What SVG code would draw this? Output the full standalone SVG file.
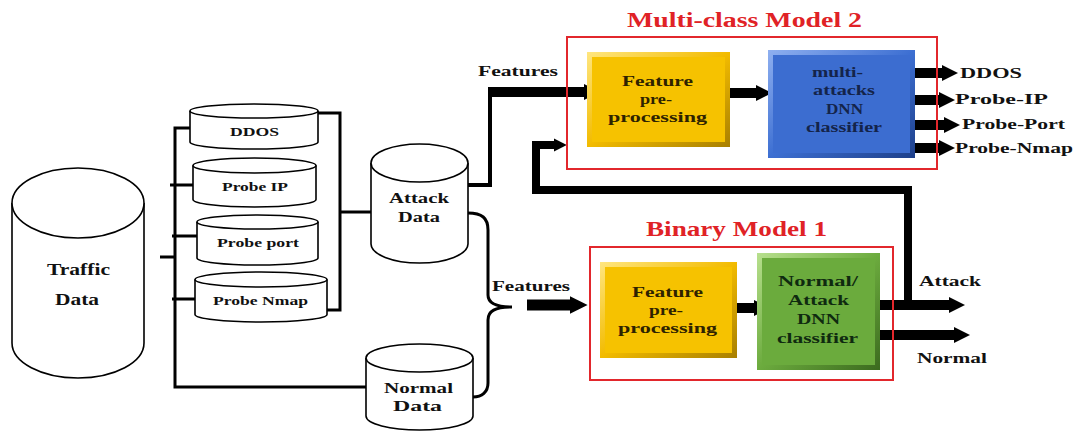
<svg xmlns="http://www.w3.org/2000/svg" width="1077" height="432" viewBox="0 0 1077 432">
<style>
.cyl{fill:#fff;stroke:#000;stroke-width:1.6}
.t{font-family:"Liberation Serif","Times New Roman",serif;font-weight:bold;fill:#111}
.s13{font-size:13px}
.s14{font-size:14px}
.s15{font-size:15px}
.s16{font-size:16px}
.title{font-family:"Liberation Serif","Times New Roman",serif;font-weight:bold;fill:#e02226;font-size:20px}
.red{fill:none;stroke:#e2272c;stroke-width:2}
.ln{fill:none;stroke:#000;stroke-width:3;stroke-linejoin:miter}
.ar{fill:none;stroke:#000;stroke-linejoin:miter}
</style>
<defs>
<marker id="ah" viewBox="0 0 10 10" refX="0" refY="5" markerWidth="1.6" markerHeight="2.5" markerUnits="strokeWidth" orient="auto">
<path d="M0,0 L10,5 L0,10 z" fill="#000"/>
</marker>
<linearGradient id="gy" x1="0" y1="0" x2="1" y2="1">
<stop offset="0" stop-color="#ffe680"/><stop offset="0.5" stop-color="#f2bb00"/><stop offset="1" stop-color="#a87f00"/>
</linearGradient>
<linearGradient id="gb" x1="0" y1="0" x2="1" y2="1">
<stop offset="0" stop-color="#8fb0f0"/><stop offset="0.5" stop-color="#3d6fd2"/><stop offset="1" stop-color="#1d3f8a"/>
</linearGradient>
<linearGradient id="gg" x1="0" y1="0" x2="1" y2="1">
<stop offset="0" stop-color="#b8e08e"/><stop offset="0.5" stop-color="#6cab3e"/><stop offset="1" stop-color="#3b6a1e"/>
</linearGradient>
</defs>

<g id="connectors">
<path class="ln" d="M190,128 H175 V387 H366"/>
<path class="ln" d="M170,185 H193 M172,236 H197 M172,299 H195 M160,257 H175"/>
<path class="ln" d="M318,113 H340 V310 H327 M340,212 H371"/>
<path class="ln" d="M468,185 H490 V88" style="stroke-width:4"/>
<path class="ar" d="M488,92 H584" style="stroke-width:10" marker-end="url(#ah)"/>
<path class="ln" d="M468,213 C482,213 488,218 488,230 L488,295 C488,303 495,307 512,307 C495,307 488,311 488,320 L488,383 C488,392 482,397 473,397"/>
<path class="ar" d="M527,305 H570" style="stroke-width:11" marker-end="url(#ah)"/>
<path class="ar" d="M730,93 H756" style="stroke-width:10" marker-end="url(#ah)"/>
<path class="ar" d="M737,308 H754" style="stroke-width:10" marker-end="url(#ah)"/>
<path class="ar" d="M915,73 H942" style="stroke-width:10" marker-end="url(#ah)"/>
<path class="ar" d="M915,100 H939" style="stroke-width:10" marker-end="url(#ah)"/>
<path class="ar" d="M915,125 H944" style="stroke-width:10" marker-end="url(#ah)"/>
<path class="ar" d="M915,148 H939" style="stroke-width:10" marker-end="url(#ah)"/>
<path class="ar" d="M880,305 H949" style="stroke-width:10" marker-end="url(#ah)"/>
<path class="ar" d="M880,335 H954" style="stroke-width:10" marker-end="url(#ah)"/>
<path class="ar" d="M908,302 V190 H536 V145 H554" style="stroke-width:8" marker-end="url(#ah)"/>
</g>

<g id="traffic-data">
<path class="cyl" d="M12,203 L12,343 A66,35 0 0 0 144,343 L144,203"/>
<ellipse class="cyl" cx="78" cy="203" rx="66" ry="35"/>
<text class="t s16" x="47" y="275" textLength="63" lengthAdjust="spacingAndGlyphs">Traffic</text>
<text class="t s16" x="55" y="305" textLength="44" lengthAdjust="spacingAndGlyphs">Data</text>
</g>

<g id="ddos">
<path class="cyl" d="M190,111 L190,142 A64,7 0 0 0 318,142 L318,111"/>
<ellipse class="cyl" cx="254" cy="111" rx="64" ry="7"/>
<text class="t s13" x="230" y="136" textLength="49" lengthAdjust="spacingAndGlyphs">DDOS</text>
</g>

<g id="probe-ip">
<path class="cyl" d="M193,165.5 L193,199.5 A61.5,7.5 0 0 0 316,199.5 L316,165.5"/>
<ellipse class="cyl" cx="254.5" cy="165.5" rx="61.5" ry="7.5"/>
<text class="t s13" x="222" y="191" textLength="66" lengthAdjust="spacingAndGlyphs">Probe IP</text>
</g>

<g id="probe-port">
<path class="cyl" d="M197,222 L197,258 A60.5,7 0 0 0 318,258 L318,222"/>
<ellipse class="cyl" cx="257.5" cy="222" rx="60.5" ry="7"/>
<text class="t s13" x="217" y="247" textLength="82" lengthAdjust="spacingAndGlyphs">Probe port</text>
</g>

<g id="probe-nmap">
<path class="cyl" d="M195,279.5 L195,314.5 A66,7.5 0 0 0 327,314.5 L327,279.5"/>
<ellipse class="cyl" cx="261" cy="279.5" rx="66" ry="7.5"/>
<text class="t s13" x="213" y="305" textLength="95" lengthAdjust="spacingAndGlyphs">Probe Nmap</text>
</g>

<g id="attack-data">
<path class="cyl" d="M371,163 L371,244 A48.5,19 0 0 0 468,244 L468,163"/>
<ellipse class="cyl" cx="419.5" cy="163" rx="48.5" ry="19"/>
<text class="t s15" x="389" y="203" textLength="60" lengthAdjust="spacingAndGlyphs">Attack</text>
<text class="t s15" x="398" y="222" textLength="42" lengthAdjust="spacingAndGlyphs">Data</text>
</g>

<g id="normal-data">
<path class="cyl" d="M366,358 L366,416 A53.5,14 0 0 0 473,416 L473,358"/>
<ellipse class="cyl" cx="419.5" cy="358" rx="53.5" ry="14"/>
<text class="t s15" x="384" y="393" textLength="69" lengthAdjust="spacingAndGlyphs">Normal</text>
<text class="t s15" x="393" y="411" textLength="49" lengthAdjust="spacingAndGlyphs">Data</text>
</g>

<g id="labels">
<text class="t s14" x="478" y="76" textLength="80" lengthAdjust="spacingAndGlyphs">Features</text>
<text class="t s14" x="492" y="291" textLength="78" lengthAdjust="spacingAndGlyphs">Features</text>
<text class="t s14" x="960" y="78" textLength="62" lengthAdjust="spacingAndGlyphs">DDOS</text>
<text class="t s14" x="955" y="104" textLength="93" lengthAdjust="spacingAndGlyphs">Probe-IP</text>
<text class="t s14" x="962" y="129" textLength="103" lengthAdjust="spacingAndGlyphs">Probe-Port</text>
<text class="t s14" x="955" y="153" textLength="118" lengthAdjust="spacingAndGlyphs">Probe-Nmap</text>
<text class="t s14" x="919" y="286" textLength="62" lengthAdjust="spacingAndGlyphs">Attack</text>
<text class="t s14" x="917" y="363" textLength="70" lengthAdjust="spacingAndGlyphs">Normal</text>
</g>

<g id="multi-class-model">
<rect class="red" x="567" y="37" width="370" height="132"/>
<text class="title" x="627" y="27" textLength="235" lengthAdjust="spacingAndGlyphs">Multi-class Model 2</text>
</g>

<g id="multi-feature-preprocessing">
<rect x="587" y="52" width="143" height="95" fill="url(#gy)"/>
<rect x="592" y="57" width="133" height="85" fill="#f6c200"/>
<text class="t s15" x="622" y="86" textLength="71" lengthAdjust="spacingAndGlyphs" style="fill:#2e2200">Feature</text>
<text class="t s15" x="640" y="104" textLength="32" lengthAdjust="spacingAndGlyphs" style="fill:#2e2200">pre-</text>
<text class="t s15" x="608" y="122" textLength="99" lengthAdjust="spacingAndGlyphs" style="fill:#2e2200">processing</text>
</g>

<g id="multi-dnn">
<rect x="768" y="50" width="147" height="108" fill="url(#gb)"/>
<rect x="773" y="55" width="137" height="98" fill="#3c6dd0"/>
<text class="t s14" x="812" y="77" textLength="51" lengthAdjust="spacingAndGlyphs" style="fill:#14244a">multi-</text>
<text class="t s14" x="813" y="95" textLength="62" lengthAdjust="spacingAndGlyphs" style="fill:#14244a">attacks</text>
<text class="t s14" x="826" y="114" textLength="37" lengthAdjust="spacingAndGlyphs" style="fill:#14244a">DNN</text>
<text class="t s14" x="806" y="132" textLength="76" lengthAdjust="spacingAndGlyphs" style="fill:#14244a">classifier</text>
</g>

<g id="binary-model">
<rect class="red" x="590" y="247" width="303" height="133"/>
<text class="title" x="646" y="236" textLength="181" lengthAdjust="spacingAndGlyphs">Binary Model 1</text>
</g>

<g id="binary-feature-preprocessing">
<rect x="600" y="262" width="137" height="96" fill="url(#gy)"/>
<rect x="605" y="267" width="127" height="86" fill="#f6c200"/>
<text class="t s15" x="632" y="297" textLength="71" lengthAdjust="spacingAndGlyphs" style="fill:#2e2200">Feature</text>
<text class="t s15" x="649" y="315" textLength="34" lengthAdjust="spacingAndGlyphs" style="fill:#2e2200">pre-</text>
<text class="t s15" x="618" y="333" textLength="99" lengthAdjust="spacingAndGlyphs" style="fill:#2e2200">processing</text>
</g>

<g id="binary-dnn">
<rect x="757" y="253" width="123" height="117" fill="url(#gg)"/>
<rect x="762" y="258" width="113" height="107" fill="#6bab3d"/>
<text class="t s15" x="778" y="286" textLength="80" lengthAdjust="spacingAndGlyphs" style="fill:#0f2a10">Normal/</text>
<text class="t s15" x="788" y="305" textLength="61" lengthAdjust="spacingAndGlyphs" style="fill:#0f2a10">Attack</text>
<text class="t s15" x="797" y="324" textLength="43" lengthAdjust="spacingAndGlyphs" style="fill:#0f2a10">DNN</text>
<text class="t s15" x="777" y="343" textLength="81" lengthAdjust="spacingAndGlyphs" style="fill:#0f2a10">classifier</text>
</g>
</svg>
